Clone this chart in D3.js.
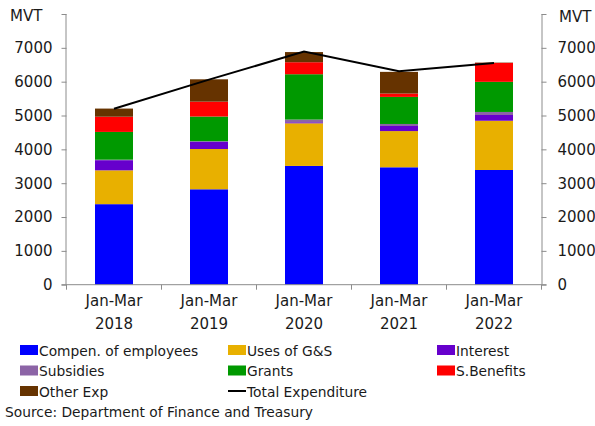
<!DOCTYPE html>
<html>
<head>
<meta charset="utf-8">
<script src="https://cdn.jsdelivr.net/npm/d3@7"></script>
<style>
  html, body { margin: 0; padding: 0; background: #fff; }
  svg { display: block; }
  text { font-family: "DejaVu Sans", sans-serif; fill: #1a1a1a; }
</style>
</head>
<body>
<svg id="chart" width="595" height="426"></svg>
<script>
// Quarterly government expenditure, MVT
const periods = ["Jan-Mar 2018", "Jan-Mar 2019", "Jan-Mar 2020", "Jan-Mar 2021", "Jan-Mar 2022"];
const compensation = [2380, 2820, 3510, 3470, 3390];
const usesGS       = [1000, 1190, 1260, 1070, 1455];
const interest     = [300, 220, 30, 150, 170];
const subsidies    = [15, 10, 80, 60, 90];
const grants       = [820, 730, 1340, 800, 890];
const sBenefits    = [450, 440, 355, 100, 560];
const otherExp     = [240, 660, 300, 640, 10];
const totalExpenditure = [5200, 6060, 6890, 6310, 6550];
const yTicks = [0, 1000, 2000, 3000, 4000, 5000, 6000, 7000, 8000];

const seriesNames = ["Compen. of employees", "Uses of G&S", "Interest", "Subsidies", "Grants", "S.Benefits", "Other Exp"];
const seriesValues = [compensation, usesGS, interest, subsidies, grants, sBenefits, otherExp];
const seriesColors = ["#0000ff", "#e8b000", "#6600cc", "#8c64a6", "#009900", "#ff0000", "#663300"];

const rows = periods.map((p, i) => {
  const r = { period: p };
  seriesNames.forEach((n, k) => { r[n] = seriesValues[k][i]; });
  return r;
});

const svg = d3.select("#chart");
const plotLeft = 66.5, plotRight = 541.5, plotTop = 14, plotBottom = 284.7;

const x = d3.scaleBand().domain(periods).range([plotLeft, plotRight]).paddingInner(0.6).paddingOuter(0.3);
const y = d3.scaleLinear().domain([0, 8000]).range([plotBottom, plotTop]);
const axisColor = "#8c8c8c";

// stacked bars
const stack = d3.stack().keys(seriesNames)(rows);
svg.append("g").selectAll("g").data(stack).join("g")
  .attr("fill", (d, i) => seriesColors[i])
  .selectAll("rect").data(d => d).join("rect")
  .attr("x", d => x(d.data.period))
  .attr("width", x.bandwidth())
  .attr("y", d => y(d[1]))
  .attr("height", d => y(d[0]) - y(d[1]));

// left and right value axes
const yLeft = svg.append("g").attr("transform", `translate(${plotLeft},0)`)
  .call(d3.axisLeft(y).tickValues(yTicks).tickSize(5).tickPadding(9).tickFormat(d => d === 8000 ? "" : d));
const yRight = svg.append("g").attr("transform", `translate(${plotRight},0)`)
  .call(d3.axisRight(y).tickValues(yTicks).tickSize(5).tickPadding(11).tickFormat(d => d === 8000 ? "" : d));
[yLeft, yRight].forEach(g => {
  g.selectAll(".tick line").attr("stroke", axisColor);
  g.selectAll(".tick text").attr("font-size", 15).attr("font-family", "DejaVu Sans").attr("fill", "#1a1a1a");
});
yLeft.select(".domain").attr("d", `M-0.5,${plotTop}V${plotBottom}`).attr("fill", "none").attr("stroke", axisColor);
yRight.select(".domain").attr("d", `M0.5,${plotTop}V${plotBottom}`).attr("fill", "none").attr("stroke", axisColor);

// category axis with ticks at band boundaries
const boundaries = d3.range(periods.length + 1).map(i => plotLeft + i * (plotRight - plotLeft) / periods.length);
const xg = svg.append("g");
xg.append("line").attr("x1", plotLeft - 5).attr("x2", plotRight + 5)
  .attr("y1", plotBottom).attr("y2", plotBottom).attr("stroke", axisColor);
xg.selectAll("line.b").data(boundaries).join("line").attr("class", "b")
  .attr("x1", d => d).attr("x2", d => d).attr("y1", plotBottom).attr("y2", plotBottom + 5).attr("stroke", axisColor);
const lbl = xg.selectAll("text").data(periods).join("text")
  .attr("text-anchor", "middle").attr("font-size", 15);
lbl.append("tspan").attr("x", d => x(d) + x.bandwidth() / 2).attr("y", 306).text(d => d.split(" ")[0]);
lbl.append("tspan").attr("x", d => x(d) + x.bandwidth() / 2).attr("y", 329).text(d => d.split(" ")[1]);

// unit labels
svg.append("text").attr("x", 10).attr("y", 21).attr("font-size", 15).text("MVT");
svg.append("text").attr("x", 559).attr("y", 22).attr("font-size", 15).text("MVT");

// total expenditure line
const line = d3.line().x((d, i) => x(periods[i]) + x.bandwidth() / 2).y(d => y(d));
svg.append("path").datum(totalExpenditure).attr("d", line)
  .attr("fill", "none").attr("stroke", "#000").attr("stroke-width", 2);

// legend
const legendItems = seriesNames.map((n, i) => ({ name: n, color: seriesColors[i], type: "rect" }));
legendItems.push({ name: "Total Expenditure", color: "#000", type: "line" });
const colX = [20, 228, 437], rowY = [350, 370.5, 391];
const lg = svg.append("g").selectAll("g").data(legendItems).join("g")
  .attr("transform", (d, i) => `translate(${colX[i % 3]},${rowY[Math.floor(i / 3)]})`);
lg.filter(d => d.type === "rect").append("rect")
  .attr("x", 0).attr("y", -5).attr("width", 18).attr("height", 10).attr("fill", d => d.color);
lg.filter(d => d.type === "line").append("line")
  .attr("x1", 0).attr("x2", 18).attr("y1", 0).attr("y2", 0).attr("stroke", "#000").attr("stroke-width", 2);
lg.append("text").attr("x", 19).attr("y", 5.5).attr("font-size", 13.8).text(d => d.name);

svg.append("text").attr("x", 5).attr("y", 417).attr("font-size", 13.8)
  .text("Source: Department of Finance and Treasury");
</script>
</body>
</html>
